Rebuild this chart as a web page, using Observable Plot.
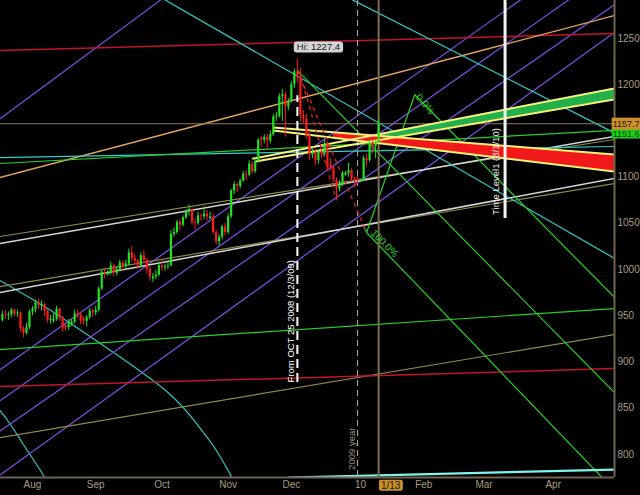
<!DOCTYPE html>
<html><head><meta charset="utf-8">
<script src="https://cdn.jsdelivr.net/npm/d3@7"></script>
<script src="https://cdn.jsdelivr.net/npm/@observablehq/plot@0.6"></script>
<style>
html,body{margin:0;padding:0;background:#000;overflow:hidden;}
#chart svg{display:block;}
</style></head><body><div id="chart"></div>
<script>
// ---------- candles (one per weekday, starting at firstCandleDay) ----------
const firstCandleDay = "2009-07-20";
const opens = [945,951,950,951,956,952,953,936,931,937,
 954,957,964,961,962,955,945,944,946,957,948,939,937,941,943,952,951,946,944,948,955,
 953,956,979,997,994,996,1004,996,1000,1007,1003,1006,1018,1012,1009,1004,1015,1010,1000,990,992,994,
 1004,1002,1003,1004,1038,1040,1051,1048,1056,1063,1065,1051,1050,1058,1057,1060,1055,1057,1040,1030,1035,1046,
 1040,1057,1085,1092,1090,1096,1103,1102,1114,1106,1117,1142,1140,1143,1139,1146,1165,1166,1187,1189,1176,
 1182,1200,1214,1208,1167,1163,1145,1124,1126,1118,1127,1125,1136,1113,1110,1097,1087,1092,1102,1104,1107,1098,1098,
 1095,1096,1120,1118,1137,1133,1138];
const highs = [955,956,954,958,957,956,954,938,942,956,
 960,967,968,966,963,956,950,952,960,958,949,941,946,946,956,956,953,949,950,958,957,
 960,981,999,1000,999,1008,1006,1003,1010,1009,1010,1022,1025,1016,1011,1018,1020,1012,1003,996,999,1008,
 1010,1006,1008,1042,1045,1053,1054,1058,1065,1070,1067,1055,1062,1060,1068,1064,1062,1060,1043,1038,1048,1050,
 1060,1087,1095,1094,1098,1106,1107,1118,1117,1120,1142,1144,1146,1146,1150,1168,1170,1190,1195,1192,1185,
 1203,1217,1227.4,1218,1172,1168,1150,1132,1130,1130,1133,1140,1138,1120,1112,1099,1096,1106,1106,1115,1109,1100,1101,
 1098,1123,1125,1140,1139,1140,1162];
const lows = [943,946,945,948,949,948,932,926,929,935,
 950,953,957,955,949,942,941,942,944,944,932,933,934,938,941,947,940,940,938,946,948,
 950,954,977,990,993,994,992,993,998,998,1000,1004,1008,1005,1000,1002,1007,995,987,986,989,992,
 998,998,1000,1003,1035,1038,1042,1046,1054,1058,1048,1043,1048,1052,1054,1052,1054,1038,1027,1025,1032,1036,
 1038,1055,1081,1083,1087,1094,1096,1100,1103,1104,1115,1132,1136,1130,1136,1144,1160,1164,1160,1143,1172,
 1180,1196,1202,1160,1158,1140,1118,1120,1112,1114,1120,1122,1106,1107,1094,1075,1084,1090,1101,1100,1094,1088,1092,
 1094,1095,1112,1116,1125,1120,1136];
const closes = [951,950,951,956,952,953,936,931,937,954,
 957,964,961,962,955,945,946,946,957,948,937,937,943,943,952,951,944,944,948,955,953,
 956,979,997,996,996,1004,996,1000,1007,1003,1006,1018,1012,1009,1004,1015,1010,1000,992,992,994,1004,
 1002,1003,1004,1038,1040,1051,1048,1056,1063,1065,1051,1050,1058,1057,1060,1057,1057,1040,1030,1035,1046,1040,
 1057,1085,1092,1090,1096,1103,1102,1114,1106,1117,1140,1140,1143,1139,1146,1165,1166,1187,1189,1176,1182,
 1200,1214,1208,1167,1163,1145,1124,1126,1118,1127,1125,1136,1110,1110,1097,1087,1092,1104,1104,1107,1098,1096,1096,
 1096,1120,1118,1137,1133,1138,1157.7];

// ---------- axes ----------
const monthTickDays = ["2009-08-03","2009-09-01","2009-10-01","2009-11-02","2009-12-01","2010-01-01","2010-02-01","2010-03-01","2010-04-01"];
const monthTickLabels = ["Aug","Sep","Oct","Nov","Dec","10","Feb","Mar","Apr"];
const priceTicks = [800,850,900,950,1000,1050,1100,1200,1250];
const barDomain = [-10.63, 193.36];      // visible trading-day span
const priceDomain = [774.9, 1291.1];

// ---------- study lines: [day1, value1, day2, value2] ----------
const purpleLines = [
  ["2009-07-16",1160.2,"2009-10-07",1302.4],
  ["2009-07-16",888.6,"2010-03-24",1303.0],
  ["2009-07-16",855.1,"2010-04-14",1300.7],
  ["2009-07-16",822.6,"2010-05-03",1290.4],
  ["2009-07-13",767.8,"2010-05-03",1260.5]
];
const cyanLines = [
  ["2009-09-28",1299.3,"2010-05-03",1008.9],
  ["2009-12-28",1293.9,"2010-05-03",1145.0],
  ["2009-07-16",1121.1,"2010-05-03",1133.2]
];
const cyanGlowLine = [["2009-11-30",774.8,"2010-05-03",783.6]];
const cyanArcs = [
  [["2009-07-16",990.2],["2009-08-10",957.8],["2009-09-07",914.5],["2009-10-05",866.9],["2009-10-19",831.1],["2009-10-26",809.5],["2009-11-02",782.4],["2009-11-04",769.5]],
  [["2009-07-16",851.7],["2009-07-22",835.5],["2009-07-29",810.6],["2009-08-05",785.7],["2009-08-10",769.5]]
];
const greenLines = [
  ["2009-07-16",1114.5,"2010-05-03",1150.8],
  ["2009-07-16",913.1,"2010-05-03",958.1],
  ["2009-12-03",1215.4,"2010-05-03",861.2],
  ["2010-01-27",1189.1,"2010-05-03",964.3],
  ["2010-01-05",1040.0,"2010-05-03",755.4]
];
const greenZigzag = [["2010-01-04",1046.5],["2010-01-05",1040.0],["2010-01-27",1189.1]];
const oliveLines = [
  ["2009-07-16",1035.1,"2010-05-03",1141.6],
  ["2009-07-16",980.9,"2010-05-03",1094.0],
  ["2009-07-16",817.4,"2010-05-03",930.6]
];
const whiteLines = [
  ["2009-07-16",1027.4,"2010-05-03",1144.9],
  ["2009-07-16",974.3,"2010-05-03",1099.5]
];
const redLines = [
  ["2009-07-16",1236.9,"2010-05-03",1255.5],
  ["2009-07-16",873.2,"2010-05-03",892.9]
];
const orangeLines = [["2009-07-16",1098.5,"2010-05-03",1276.3]];
const greenBandEdges = [
  ["2009-11-12",1119.8,"2010-05-03",1197.0],
  ["2009-11-13",1116.9,"2010-05-03",1185.0]
];
const redBandEdges = [
  ["2009-11-23",1153.6,"2010-05-03",1124.0],
  ["2009-11-23",1150.3,"2010-05-03",1105.4]
];
const greenBandFrom = "2010-01-11";
const redBandFrom = "2009-12-21";
const redDashedLines = [
  ["2009-12-03",1215.4,"2010-01-05",1040.0],
  ["2009-12-04",1210.0,"2009-12-22",1074.7]
];

// ---------- vertical markers and labels ----------
const fromLine = {day: "2009-12-03", low: 877.7, high: 1188};
const yearLineDay = "2009-12-31";
const currentLineDay = "2010-01-11";
const timeLevelLine = {day: "2010-03-10", low: 1055.2};
const rotatedLabels = [
  {day: "2009-12-01", value: 944, text: "From OCT 25 2008 (12/3/09)", color: "#ffffff"},
  {day: "2009-12-29", value: 806, text: "2009 year", color: "#9a9080"},
  {day: "2010-03-05", value: 1106, text: "Time Level1 (3/1/10)", color: "#f2f2f2"}
];
const fibLabels = [
  {day: "2010-01-28", value: 1188.3, text: "0.0%", angle: 50},
  {day: "2010-01-07", value: 1041.1, text: "100.0%", angle: 45}
];
const highLabel = {day: "2009-12-14", value: 1240.3, text: "Hi: 1227.4"};
const lastPrice = 1157.7;
const secondPrice = 1151.6;
const secondPriceSpot = 1147.0;
const todayLabel = {day: "2010-01-13", text: "1/13"};

// ---------- helpers ----------
const base = Date.UTC(2009, 7, 3);
function bar(s) {
  const [y, m, d] = s.split("-").map(Number);
  const D = Math.round((Date.UTC(y, m - 1, d) - base) / 864e5);
  const w = Math.floor(D / 7), r = D - 7 * w;
  return 5 * w + Math.min(r, 5);
}
const b0 = bar(firstCandleDay);
const candles = closes.map((c, i) => ({x: b0 + i, o: opens[i], h: highs[i], l: lows[i], c}));
const up = candles.filter(d => d.c >= d.o), down = candles.filter(d => d.c < d.o);
const tickBars = monthTickDays.map(bar);
const tickName = new Map(tickBars.map((b, i) => [b, monthTickLabels[i]]));
function valueAt(line, b) {
  const x1 = bar(line[0]), x2 = bar(line[2]);
  return line[1] + (line[3] - line[1]) * (b - x1) / (x2 - x1);
}
function band(edges, from) {
  const a = bar(from), z = bar(edges[0][2]);
  return [a, z].map(b => ({x: b, y1: valueAt(edges[0], b), y2: valueAt(edges[1], b)}));
}
const linkOpts = (stroke, w = 1, extra = {}) => ({
  x1: d => bar(d[0]), y1: d => d[1], x2: d => bar(d[2]), y2: d => d[3],
  stroke, strokeWidth: w, clip: true, ...extra
});
const yBottom = priceDomain[0], yTop = priceDomain[1];
const xRight = barDomain[1];

const chart = Plot.plot({
  width: 640, height: 495,
  marginLeft: 0, marginRight: 26, marginTop: 0, marginBottom: 18,
  style: {background: "#000", color: "#a89c84", fontFamily: "'Liberation Sans', Arial, sans-serif", fontSize: "10px"},
  x: {type: "linear", domain: barDomain, ticks: tickBars, tickFormat: d => tickName.get(d) ?? "", tickSize: 0, tickPadding: 3, label: null},
  y: {domain: priceDomain, axis: "right", ticks: priceTicks, tickFormat: d => String(d), tickSize: 0, tickPadding: 3, label: null},
  marks: [
    ...cyanArcs.map(arc => Plot.line(arc, {x: d => bar(d[0]), y: d => d[1], stroke: "#2ec8c0", strokeWidth: 1.2, curve: "natural", clip: true})),
    Plot.link(purpleLines, linkOpts("#7d4fe8", 1.2)),
    Plot.link(oliveLines, linkOpts("#8f8a45", 1.2)),
    Plot.link(whiteLines, linkOpts("#d6d6d6", 1.5)),
    Plot.link(redLines, linkOpts("#c3142c", 1.5)),
    Plot.link(orangeLines, linkOpts("#e6a763", 1.3)),
    Plot.link(cyanLines, linkOpts("#2fd0cc", 1.2)),
    Plot.link(greenLines, linkOpts("#27d027", 1.2)),
    Plot.line(greenZigzag, {x: d => bar(d[0]), y: d => d[1], stroke: "#27d027", strokeWidth: 1.2, clip: true}),
    Plot.link(cyanGlowLine, linkOpts("#7ff5ea", 2.2)),
    Plot.ruleY([lastPrice], {stroke: "#8a7c5c", strokeWidth: 1}),
    Plot.ruleX([bar(yearLineDay)], {stroke: "#b8b0a0", strokeWidth: 1, strokeDasharray: "6,4"}),
    Plot.ruleX([bar(currentLineDay)], {stroke: "#7d6e50", strokeWidth: 2}),
    Plot.areaY(band(greenBandEdges, greenBandFrom), {x: "x", y1: "y1", y2: "y2", fill: "#22b04a", clip: true}),
    Plot.areaY(band(redBandEdges, redBandFrom), {x: "x", y1: "y1", y2: "y2", fill: "#f01818", clip: true}),
    Plot.link(greenBandEdges, linkOpts("#f6f27a", 2)),
    Plot.link(redBandEdges, linkOpts("#f6f27a", 2)),
    Plot.link(redDashedLines, linkOpts("#e02020", 1.3, {strokeDasharray: "4,4"})),
    Plot.ruleX(up, {x: "x", y1: "l", y2: "h", stroke: "#22e022", strokeWidth: 1}),
    Plot.ruleX(up, {x: "x", y1: "o", y2: "c", stroke: "#22e022", strokeWidth: 2.2}),
    Plot.ruleX(down, {x: "x", y1: "l", y2: "h", stroke: "#ff1a1a", strokeWidth: 1}),
    Plot.ruleX(down, {x: "x", y1: "o", y2: "c", stroke: "#ff1a1a", strokeWidth: 2.2}),
    Plot.ruleX([fromLine], {x: d => bar(d.day), y1: "low", y2: "high", stroke: "#ffffff", strokeWidth: 2, strokeDasharray: "9,5"}),
    Plot.ruleX([timeLevelLine], {x: d => bar(d.day), y1: "low", y2: () => yTop, stroke: "#f4f4f4", strokeWidth: 3}),
    Plot.ruleY([yBottom], {stroke: "#6e6450", strokeWidth: 2}),
    Plot.ruleX([xRight], {stroke: "#6e6450", strokeWidth: 2}),
    Plot.text(rotatedLabels, {x: d => bar(d.day), y: "value", text: "text", fill: d => d.color, rotate: -90, fontSize: 9.5}),
    Plot.text(fibLabels, {x: d => bar(d.day), y: "value", text: "text", fill: "#30d030", rotate: d => d.angle, textAnchor: "start", fontSize: 10}),
    Plot.text([highLabel], {x: d => bar(d.day), y: "value", text: "text", fill: "#1a1a1a", fontSize: 9.5}),
    Plot.text([secondPrice], {x: () => xRight, y: () => secondPriceSpot, text: d => d.toFixed(1), fill: "#0a3a0a", textAnchor: "end", dx: 25, fontSize: 9}),
    Plot.text([lastPrice], {x: () => xRight, y: d => d, text: d => d.toFixed(1), fill: "#2a1a00", textAnchor: "end", dx: 25, fontSize: 9}),
    Plot.text([todayLabel], {x: d => bar(d.day), y: () => yBottom, text: "text", fill: "#2a1a00", dx: 6, dy: 8, fontSize: 10})
  ]
});
document.getElementById("chart").appendChild(chart);

// label boxes behind selected texts
function boxBehind(text, fill, padX, padY, rx, toRight) {
  for (const t of chart.querySelectorAll("text")) {
    if (t.textContent !== text) continue;
    const b = t.getBBox();
    const r = document.createElementNS("http://www.w3.org/2000/svg", "rect");
    r.setAttribute("x", b.x - padX);
    r.setAttribute("y", b.y - padY);
    r.setAttribute("width", toRight ? 60 : b.width + 2 * padX);
    r.setAttribute("height", b.height + 2 * padY);
    r.setAttribute("rx", rx);
    r.setAttribute("fill", fill);
    if (t.getAttribute("transform")) r.setAttribute("transform", t.getAttribute("transform"));
    t.parentNode.insertBefore(r, t);
  }
}
boxBehind(secondPrice.toFixed(1), "#19d019", 1, 0, 0, true);
boxBehind(lastPrice.toFixed(1), "#c88f2c", 1, 1, 0, true);
boxBehind(highLabel.text, "#d4d4d4", 3, 0, 3, false);
boxBehind(todayLabel.text, "#c88f2c", 2, 0, 2, false);
</script></body></html>
